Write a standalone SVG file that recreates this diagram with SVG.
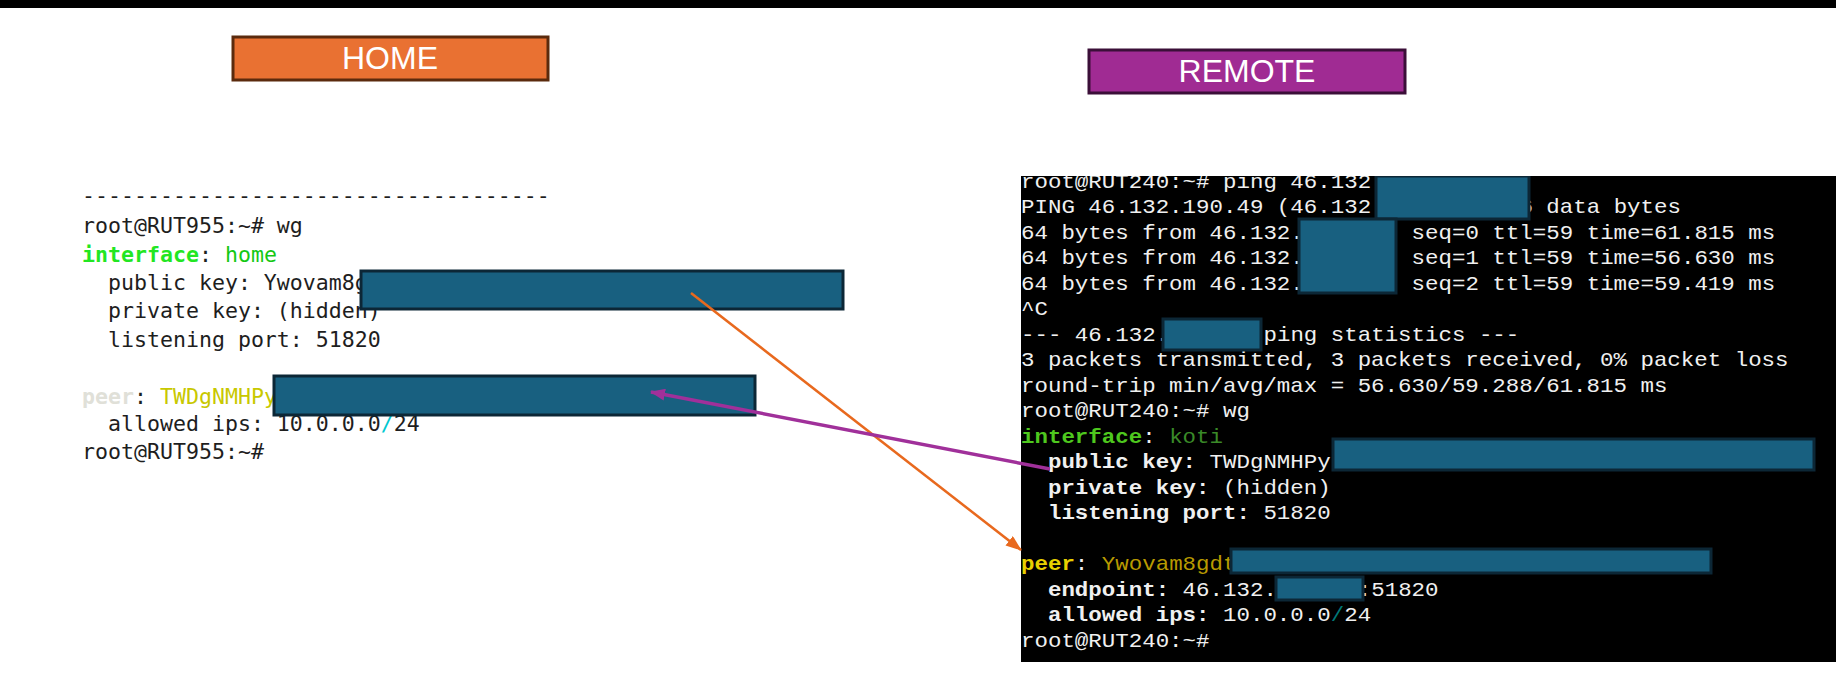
<svg xmlns="http://www.w3.org/2000/svg" width="1836" height="683" viewBox="0 0 1836 683">
<style>
.redact{fill:#186080;stroke:#0c2736;stroke-width:3}
.title{font-family:"Liberation Sans",Arial,sans-serif;font-size:32px;fill:#ffffff;text-anchor:middle}
.hterm{font-family:"DejaVu Sans Mono",monospace;font-size:22px;fill:#1e1e1e}
.rterm{font-family:"Liberation Mono","Courier New",monospace;font-size:20px;fill:#f0f0f0}
.b{font-weight:bold}
</style>
<defs>
<marker id="ahOrange" markerUnits="userSpaceOnUse" markerWidth="16" markerHeight="12" refX="15" refY="6" orient="auto">
<path d="M0,0 L16,6 L0,12 z" fill="#e8691e"/>
</marker>
<marker id="ahPurple" markerUnits="userSpaceOnUse" markerWidth="15" markerHeight="12" refX="14" refY="6" orient="auto">
<path d="M0,0 L15,6 L0,12 z" fill="#a0309a"/>
</marker>
<clipPath id="termClip"><rect x="1021" y="176" width="815" height="486"/></clipPath>
</defs>
<rect x="0" y="0" width="1836" height="683" fill="#ffffff"/>
<rect x="0" y="0" width="1836" height="8" fill="#000000"/>

<g id="home-label">
<rect x="233" y="37" width="315" height="43" fill="#e97132" stroke="#5b2a0d" stroke-width="3"/>
<text class="title" x="390" y="69">HOME</text>
</g>

<g id="remote-label">
<rect x="1089" y="50" width="316" height="43" fill="#a02b93" stroke="#3b0f38" stroke-width="3"/>
<text class="title" x="1247" y="82">REMOTE</text>
</g>

<g id="home-terminal">
<g class="hterm" transform="translate(82 0) scale(0.9815 1)">
<text xml:space="preserve" y="203">------------------------------------</text>
<text xml:space="preserve" y="233">root@RUT955:~# wg</text>
<text xml:space="preserve" y="262"><tspan class="b" fill="#22e622">interface</tspan>: <tspan fill="#14c814">home</tspan></text>
<text xml:space="preserve" y="290">  public key: Ywovam8g</text>
<text xml:space="preserve" y="318">  private key: (hidden)</text>
<text xml:space="preserve" y="347">  listening port: 51820</text>
<text xml:space="preserve" y="404"><tspan class="b" fill="#e0e0d8">peer</tspan>: <tspan fill="#c8c800">TWDgNMHPy</tspan></text>
<text xml:space="preserve" y="431">  allowed ips: 10.0.0.0<tspan fill="#00c8d0">/</tspan>24</text>
<text xml:space="preserve" y="459">root@RUT955:~#</text>
</g>
<rect class="redact" x="361" y="271" width="482" height="38"/>
<rect class="redact" x="274" y="376" width="481" height="39"/>
</g>

<g id="remote-terminal">
<rect x="1021" y="176" width="815" height="486" fill="#000000"/>
<g clip-path="url(#termClip)">
<g class="rterm" transform="translate(1021 0) scale(1.1225 1)">
<text xml:space="preserve" y="188">root@RUT240:~# ping 46.132</text>
<text xml:space="preserve" y="213.5">PING 46.132.190.49 (46.132<tspan x="444">6 data bytes</tspan></text>
<text xml:space="preserve" y="239">64 bytes from 46.132.<tspan x="348">seq=0 ttl=59 time=61.815 ms</tspan></text>
<text xml:space="preserve" y="264.5">64 bytes from 46.132.<tspan x="348">seq=1 ttl=59 time=56.630 ms</tspan></text>
<text xml:space="preserve" y="290">64 bytes from 46.132.<tspan x="348">seq=2 ttl=59 time=59.419 ms</tspan></text>
<text xml:space="preserve" y="315.5">^C</text>
<text xml:space="preserve" y="341">--- 46.132.<tspan x="216">ping statistics ---</tspan></text>
<text xml:space="preserve" y="366.5">3 packets transmitted, 3 packets received, 0% packet loss</text>
<text xml:space="preserve" y="392">round-trip min/avg/max = 56.630/59.288/61.815 ms</text>
<text xml:space="preserve" y="417.5">root@RUT240:~# wg</text>
<text xml:space="preserve" y="443"><tspan class="b" fill="#4ec81e">interface</tspan>: <tspan fill="#3a8a28">koti</tspan></text>
<text xml:space="preserve" y="468.5">  <tspan class="b">public key:</tspan> TWDgNMHPy</text>
<text xml:space="preserve" y="494">  <tspan class="b">private key:</tspan> (hidden)</text>
<text xml:space="preserve" y="519.5">  <tspan class="b">listening port:</tspan> 51820</text>
<text xml:space="preserve" y="570.5"><tspan class="b" fill="#e8d000">peer</tspan>: <tspan fill="#b89a00">Ywovam8gdt</tspan></text>
<text xml:space="preserve" y="596">  <tspan class="b">endpoint:</tspan> 46.132.<tspan x="300">:51820</tspan></text>
<text xml:space="preserve" y="621.5">  <tspan class="b">allowed ips:</tspan> 10.0.0.0<tspan fill="#007878">/</tspan>24</text>
<text xml:space="preserve" y="647">root@RUT240:~#</text>
</g>
<rect class="redact" x="1376" y="176" width="153" height="43"/>
<rect class="redact" x="1299" y="219" width="97" height="74"/>
<rect class="redact" x="1163" y="319" width="98" height="31"/>
<rect class="redact" x="1333" y="439" width="481" height="31"/>
<rect class="redact" x="1231" y="549" width="480" height="24"/>
<rect class="redact" x="1276" y="577" width="87" height="23"/>
</g>
</g>

<g id="connectors">
<line x1="691" y1="293" x2="1021" y2="550" stroke="#e8691e" stroke-width="2.5" marker-end="url(#ahOrange)"/>
<line x1="1050" y1="469" x2="651" y2="392" stroke="#a0309a" stroke-width="3.5" marker-end="url(#ahPurple)"/>
</g>
</svg>
